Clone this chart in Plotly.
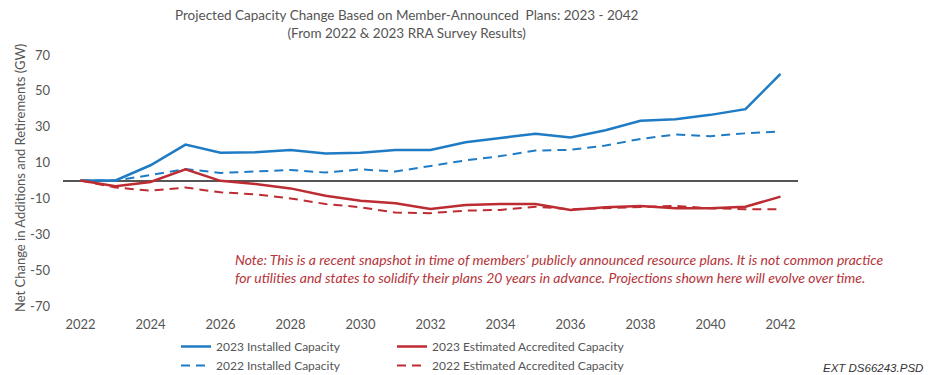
import plotly.graph_objects as go

years = list(range(2022, 2043))

installed_2023 = [0, 0, 8.5, 20, 15.5, 15.8, 17, 15, 15.5, 17, 17,
                  21.3, 23.7, 26, 24, 28, 33.3, 34.2, 36.6, 39.8, 59.5]
installed_2022 = [0, 0, 3, 6.4, 4.2, 5.1, 5.9, 4.4, 6.2, 5, 7.9,
                  11.2, 13.6, 16.7, 17.1, 19.5, 23.2, 25.6, 24.7, 26.3, 27.4]
accredited_2023 = [0, -3.2, -0.8, 6.2, -0.2, -2, -4.4, -8.5, -11.3, -12.7, -15.9,
                   -13.7, -13.1, -13.1, -16.4, -14.9, -14.2, -15.5, -15.5, -14.6, -9]
accredited_2022 = [0, -3.9, -5.7, -3.9, -6.6, -7.7, -10, -13.1, -14.9, -17.9, -18.2,
                   -16.8, -16.4, -14.6, -16, -15.5, -14.6, -14.2, -15.5, -16, -16]

x_ticks = list(range(2022, 2043, 2))
y_ticks = [70, 50, 30, 10, -10, -30, -50, -70]
y_tick_labels = ["70", "50", "30", "10", "-10", "-30", "-50", "-70"]

BLUE = "#1f7cc4"
RED = "#bd2c33"
GREY = "#555555"

W, H = 928, 375
M_L, M_R, M_T, M_B = 63, 130, 46, 60
PLOT_W = W - M_L - M_R
PLOT_H = H - M_T - M_B


def px_x(px):
    """Horizontal pixel position -> paper coordinate."""
    return (px - M_L) / PLOT_W


def px_y(py):
    """Vertical pixel position (from top) -> paper coordinate."""
    return (M_T + PLOT_H - py) / PLOT_H


fig = go.Figure()

fig.add_trace(go.Scatter(x=years, y=installed_2023, mode="lines",
                         name="2023 Installed Capacity",
                         line=dict(color=BLUE, width=2.5), legend="legend"))
fig.add_trace(go.Scatter(x=years, y=installed_2022, mode="lines",
                         name="2022 Installed Capacity",
                         line=dict(color=BLUE, width=2, dash="9px,6px"), legend="legend"))
fig.add_trace(go.Scatter(x=years, y=accredited_2023, mode="lines",
                         name="2023 Estimated Accredited Capacity",
                         line=dict(color=RED, width=2.5), legend="legend2"))
fig.add_trace(go.Scatter(x=years, y=accredited_2022, mode="lines",
                         name="2022 Estimated Accredited Capacity",
                         line=dict(color=RED, width=2, dash="9px,6px"), legend="legend2"))

legend_common = dict(orientation="v", yanchor="top", y=px_y(332), xanchor="left",
                     font=dict(family="Lato", size=12, color=GREY),
                     bgcolor="rgba(0,0,0,0)", itemwidth=30, tracegroupgap=0)

fig.update_layout(
    width=W, height=H,
    margin=dict(l=M_L, r=M_R, t=M_T, b=M_B, autoexpand=False),
    paper_bgcolor="white", plot_bgcolor="white",
    font=dict(family="Lato", color=GREY),
    xaxis=dict(range=[2021.5, 2042.5], tickvals=x_ticks, ticktext=[str(v) for v in x_ticks],
               showgrid=False, zeroline=False, showline=False, ticks="",
               tickfont=dict(family="Lato", size=13, color=GREY)),
    yaxis=dict(range=[-75, 75], tickvals=y_ticks, ticktext=y_tick_labels, showgrid=False,
               zeroline=True, zerolinecolor="#555555", zerolinewidth=1.5,
               showline=False, ticks="", ticklabelstandoff=12,
               tickfont=dict(family="Lato", size=13, color=GREY)),
    legend=dict(x=px_x(176), **legend_common),
    legend2=dict(x=px_x(392), **legend_common),
    showlegend=True,
)

# Two-line chart title
fig.add_annotation(
    text="Projected Capacity Change Based on Member-Announced  Plans: 2023 - 2042"
         "<br>(From 2022 & 2023 RRA Survey Results)",
    xref="paper", yref="paper", x=px_x(407), y=px_y(24.5),
    xanchor="center", yanchor="middle", align="center", showarrow=False,
    font=dict(family="Lato", size=13.5, color=GREY),
)

# Vertical axis title
fig.add_annotation(
    text="Net Change in Additions and Retirements (GW)",
    xref="paper", yref="paper", x=px_x(20), y=px_y(178),
    xanchor="center", yanchor="middle", textangle=-90, showarrow=False,
    font=dict(family="Lato", size=13, color=GREY),
)

fig.add_annotation(
    text="Note: This is a recent snapshot in time of members’ publicly announced resource plans. "
         "It is not common practice<br>for utilities and states to solidify their plans 20 years "
         "in advance. Projections shown here will evolve over time.",
    xref="paper", yref="paper", x=px_x(233), y=px_y(268.5),
    xanchor="left", yanchor="middle", align="left", showarrow=False,
    font=dict(family="Lato", size=14, color="#b5343a", style="italic"),
)

fig.add_annotation(
    text="EXT DS66243.PSD",
    xref="paper", yref="paper", x=px_x(925), y=px_y(368),
    xanchor="right", yanchor="middle", showarrow=False,
    font=dict(family="Liberation Sans", size=11.5, color="#333333", style="italic"),
)

fig.write_html("out.html")
